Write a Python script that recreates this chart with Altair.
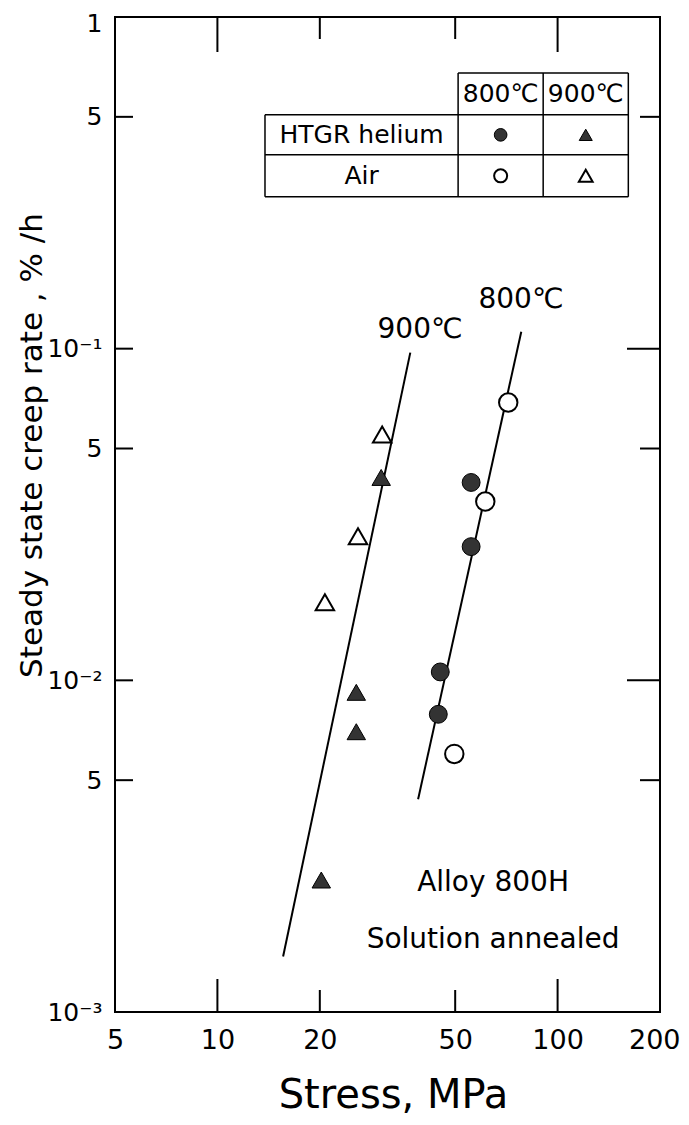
import altair as alt
import pandas as pd

# ---- data ----
he800_x = [55.7, 55.7, 45.2, 44.6]
he800_y = [0.0395, 0.0253, 0.0106, 0.0079]
air800_x = [71.6, 61.3, 49.7]
air800_y = [0.0688, 0.0346, 0.0060]
he900_x = [30.3, 25.6, 25.6, 20.2]
he900_y = [0.0409, 0.0092, 0.0070, 0.0025]
air900_x = [30.5, 25.9, 20.7]
air900_y = [0.0551, 0.0272, 0.0172]

fit900_x = [15.6, 36.9]
fit900_y = [0.00147, 0.0973]
fit800_x = [38.9, 78.2]
fit800_y = [0.00438, 0.1125]

x_ticks = [5, 10, 20, 50, 100, 200]
y_ticks = [1, 0.5, 0.1, 0.05, 0.01, 0.005, 0.001]
y_tick_text = ["1", "5", "10⁻¹", "5", "10⁻²", "5", "10⁻³"]

# legend table (in data coordinates)
tbl_cols = [13.8, 51.0, 90.7, 161.4]
tbl_rows = [0.678, 0.507, 0.384, 0.287]

FONT = "DejaVu Sans"
W, H = 545, 995

xs = alt.Scale(type="log", domain=[5, 200], nice=False)
ys = alt.Scale(type="log", domain=[0.001, 1], nice=False)

label_expr = "[" + ",".join("'%s'" % t for t in y_tick_text) + "][indexof([" + \
    ",".join(repr(v) for v in y_ticks) + "], datum.value)]"

x_axis = alt.Axis(values=x_ticks, format="d", labelFontSize=27, labelFont=FONT,
                  labelPadding=15, ticks=False, domain=False, grid=False,
                  labelFlush=False, labelOverlap=False, labelColor="black",
                  labelAlign={"condition": {"test": "datum.value == 200", "value": "right"},
                              "value": "center"},
                  labelOffset={"condition": {"test": "datum.value == 200", "value": 20},
                               "value": 0},
                  title="Stress,  MPa", titleFont=FONT, titleFontSize=40,
                  titleFontWeight="normal", titleBaseline="middle", titleY=83,
                  titleX=278, titleColor="black")
y_axis = alt.Axis(values=y_ticks, labelExpr=label_expr, labelFontSize=25, labelFont=FONT,
                  labelPadding=13, ticks=False, domain=False, grid=False,
                  labelFlush=False, labelOverlap=False, labelColor="black",
                  labelBaseline="middle",
                  labelOffset={"condition": {"test": "datum.value == 1", "value": 6}, "value": 0},
                  title="Steady state creep rate , % /h", titleFont=FONT, titleFontSize=31,
                  titleFontWeight="normal", titleAngle=270, titleX=-83, titleY=428,
                  titleBaseline="middle", titleAlign="center", titleColor="black")


def X(field="x"):
    return alt.X(field + ":Q", scale=xs, axis=x_axis)


def Y(field="y"):
    return alt.Y(field + ":Q", scale=ys, axis=y_axis)


fits = pd.DataFrame({
    "x": fit900_x + fit800_x,
    "y": fit900_y + fit800_y,
    "series": ["900"] * 2 + ["800"] * 2,
})
lines = alt.Chart(fits).mark_line(color="black", strokeWidth=2).encode(
    x=X(), y=Y(), detail="series:N")


def pts(xv, yv, shape, filled, size):
    df = pd.DataFrame({"x": xv, "y": yv})
    if filled:
        m = alt.Chart(df).mark_point(shape=shape, filled=True, fill="#333333",
                                     stroke="black", strokeWidth=1, size=size, opacity=1)
    else:
        m = alt.Chart(df).mark_point(shape=shape, filled=True, fill="white",
                                     stroke="black", strokeWidth=2, size=size, opacity=1)
    return m.encode(x=X(), y=Y())


p1 = pts(he800_x, he800_y, "circle", True, 320)
p2 = pts(air800_x, air800_y, "circle", False, 340)
p3 = pts(he900_x, he900_y, "triangle-up", True, 340)
p4 = pts(air900_x, air900_y, "triangle-up", False, 340)


# ---- inward ticks on the frame ----
def vticks(vals, y0, y1):
    df = pd.DataFrame({"x": vals})
    return alt.Chart(df).mark_rule(color="black", strokeWidth=2).encode(
        x=X(), y=alt.value(y0), y2=alt.value(y1))


def hticks(vals, x0, x1):
    df = pd.DataFrame({"y": vals})
    return alt.Chart(df).mark_rule(color="black", strokeWidth=2).encode(
        y=Y(), x=alt.value(x0), x2=alt.value(x1))


ticks = [
    vticks([10, 100], H, H - 33), vticks([20, 50], H, H - 22),
    vticks([10, 100], 0, 35), vticks([20, 50], 0, 22),
    hticks([0.5, 0.1, 0.05, 0.01, 0.005], 0, 18),
    hticks([0.1, 0.01], W, W - 33), hticks([0.5, 0.05, 0.005], W, W - 20),
]

# ---- legend table ----
c0, c1, c2, c3 = tbl_cols
r0, r1, r2, r3 = tbl_rows
segs = pd.DataFrame([
    (c1, c3, r0, r0), (c0, c3, r1, r1), (c0, c3, r2, r2), (c0, c3, r3, r3),
    (c0, c0, r1, r3), (c1, c1, r0, r3), (c2, c2, r0, r3), (c3, c3, r0, r3),
], columns=["x", "x2", "y", "y2"])
table = alt.Chart(segs).mark_rule(color="black", strokeWidth=1.5).encode(
    x=X(), x2="x2:Q", y=Y(), y2="y2:Q")


def gm(a, b):
    return (a * b) ** 0.5


tbl_text = pd.DataFrame({
    "x": [gm(c1, c2), gm(c2, c3), gm(c0, c1), gm(c0, c1)],
    "y": [gm(r0, r1), gm(r0, r1), gm(r1, r2), gm(r2, r3)],
    "t": ["800℃", "900℃", "HTGR helium", "Air"],
})
table_txt = alt.Chart(tbl_text).mark_text(font=FONT, fontSize=25, color="black",
                                          baseline="middle").encode(
    x=X(), y=Y(), text="t:N")

lg1 = pts([gm(c1, c2)], [gm(r1, r2)], "circle", True, 160)
lg2 = pts([gm(c2, c3)], [gm(r1, r2)], "triangle-up", True, 170)
lg3 = pts([gm(c1, c2)], [gm(r2, r3)], "circle", False, 170)
lg4 = pts([gm(c2, c3)], [gm(r2, r3)], "triangle-up", False, 190)

# ---- annotations ----
ann = pd.DataFrame({
    "x": [39.4, 78.0, 64.6, 64.6],
    "y": [0.1138, 0.140, 0.00245, 0.00165],
    "t": ["900℃", "800℃", "Alloy  800H", "Solution  annealed"],
})
ann_txt = alt.Chart(ann).mark_text(font=FONT, fontSize=28, color="black",
                                   baseline="middle").encode(
    x=X(), y=Y(), text="t:N")

chart = alt.layer(lines, *ticks, table, table_txt, lg1, lg2, lg3, lg4, ann_txt,
                  p1, p2, p3, p4).properties(
    width=W, height=H,
    autosize=alt.AutoSizeParams(type="none"),
    padding={"left": 107, "top": 9, "right": 21, "bottom": 105},
    background="white",
).configure_view(stroke="black", strokeWidth=2)

chart.save("out.html", embed_options={"renderer": "svg", "actions": False})
